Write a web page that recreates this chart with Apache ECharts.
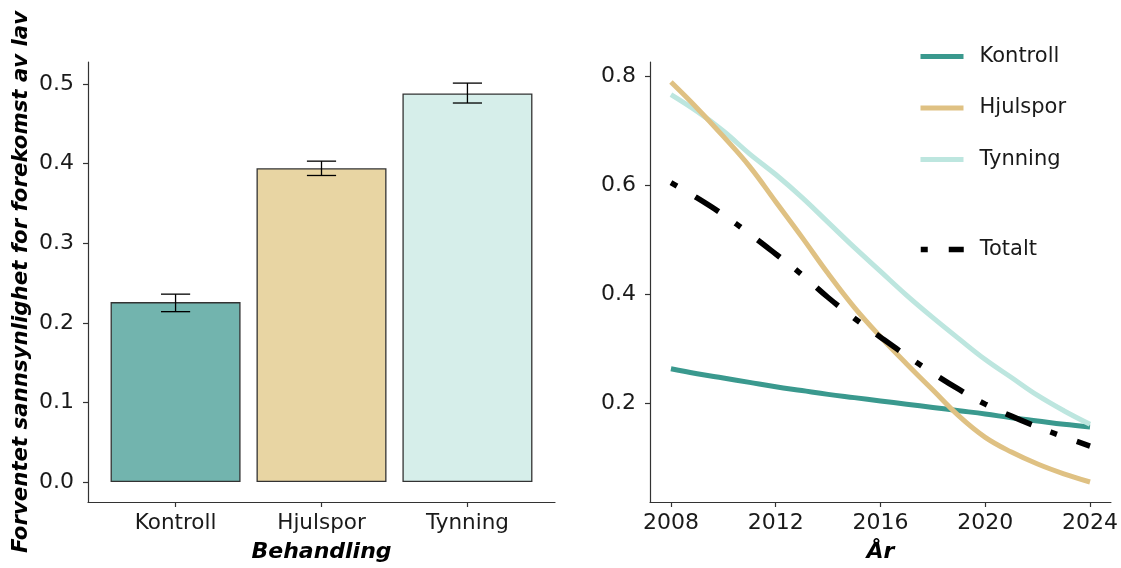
<!DOCTYPE html>
<html>
<head>
<meta charset="utf-8">
<script src="https://cdn.jsdelivr.net/npm/echarts@6/dist/echarts.min.js"></script>
<style>
  html, body { margin: 0; padding: 0; background: #fff; }
  #main { width: 1121px; height: 568px; }
</style>
</head>
<body>
<div id="main"></div>
<script>
// Left panel: expected probability per treatment, with error bars
const treatments = ['Kontroll', 'Hjulspor', 'Tynning'];
const probMean = [0.226, 0.394, 0.488];
const probLower = [0.214, 0.385, 0.476];
const probUpper = [0.236, 0.403, 0.501];
const probTicks = [0, 0.1, 0.2, 0.3, 0.4, 0.5];

// Right panel: predicted trend per year
const years = [2008, 2009, 2010, 2011, 2012, 2013, 2014, 2015, 2016,
  2017, 2018, 2019, 2020, 2021, 2022, 2023, 2024];
const kontroll = [0.263, 0.254, 0.246, 0.238, 0.230, 0.223, 0.216, 0.210, 0.204,
  0.198, 0.192, 0.186, 0.180, 0.173, 0.167, 0.161, 0.156];
const hjulspor = [0.790, 0.742, 0.690, 0.635, 0.570, 0.505, 0.438, 0.376, 0.322,
  0.272, 0.224, 0.176, 0.137, 0.110, 0.088, 0.070, 0.055];
const tynning = [0.767, 0.736, 0.700, 0.658, 0.620, 0.578, 0.532, 0.486, 0.442,
  0.398, 0.357, 0.318, 0.280, 0.247, 0.214, 0.186, 0.161];
const totalt = [0.605, 0.577, 0.546, 0.511, 0.474, 0.436, 0.394, 0.356, 0.321,
  0.287, 0.255, 0.225, 0.198, 0.176, 0.156, 0.138, 0.121];
const yearTicks = [2008, 2012, 2016, 2020, 2024];
const trendTicks = [0.2, 0.4, 0.6, 0.8];

const lineColors = ['#3a998e', '#dfc183', '#bde6df'];
const barColors = ['#72b4ae', '#e8d5a3', '#d6eeea'];

const FONT = 'DejaVu Sans';
const TXT = '#1a1a1a';

function axisStyle() {
  return {
    axisLine: { show: true, onZero: false, lineStyle: { color: '#333', width: 1.2 } },
    splitLine: { show: false }
  };
}

function tickLabel(values, fmt, size, margin) {
  return {
    customValues: values,
    formatter: fmt,
    fontFamily: FONT,
    fontSize: size,
    color: TXT,
    margin: margin
  };
}

function tickMarks(values) {
  return { show: true, customValues: values, length: 5, lineStyle: { color: '#333', width: 1.2 } };
}

const titleStyle = { fontFamily: FONT, fontWeight: 'bold', fontStyle: 'italic', fontSize: 22, color: '#000' };

const legendText = { fontFamily: FONT, fontSize: 21, color: TXT, lineHeight: 20, padding: [0, 0, 0, 11] };

function pairs(ys) {
  return years.map((yr, i) => [yr, ys[i]]);
}

const chart = echarts.init(document.getElementById('main'), null, { renderer: 'canvas' });

const option = {
  animation: false,
  backgroundColor: '#fff',
  grid: [
    { left: 88, top: 62, width: 467, height: 441 },
    { left: 650, top: 62, width: 463, height: 441 }
  ],
  xAxis: [
    Object.assign(axisStyle(), {
      gridIndex: 0, type: 'value', min: 0.4, max: 3.6,
      axisLabel: tickLabel([1, 2, 3], v => treatments[Math.round(v) - 1], 21.5, 10),
      axisTick: tickMarks([1, 2, 3]),
      name: 'Behandling', nameLocation: 'middle', nameGap: 39,
      nameTextStyle: titleStyle
    }),
    Object.assign(axisStyle(), {
      gridIndex: 1, type: 'value', min: 2007.2, max: 2024.8,
      axisLabel: tickLabel(yearTicks, v => String(v), 22, 10),
      axisTick: tickMarks(yearTicks),
      name: 'År', nameLocation: 'middle', nameGap: 39,
      nameTextStyle: titleStyle
    })
  ],
  yAxis: [
    Object.assign(axisStyle(), {
      gridIndex: 0, type: 'value', min: -0.025, max: 0.5275,
      axisLabel: tickLabel(probTicks, v => v.toFixed(1), 22, 14),
      axisTick: tickMarks(probTicks),
      name: 'Forventet sannsynlighet for forekomst av lav',
      nameLocation: 'middle', nameGap: 56,
      nameTextStyle: Object.assign({}, titleStyle, { fontSize: 21.3 })
    }),
    Object.assign(axisStyle(), {
      gridIndex: 1, type: 'value', min: 0.0182, max: 0.8268,
      axisLabel: tickLabel(trendTicks, v => v.toFixed(1), 22, 14),
      axisTick: tickMarks(trendTicks)
    })
  ],
  legend: [
    {
      data: ['Kontroll', 'Hjulspor', 'Tynning'],
      orient: 'vertical', left: 913, top: 41,
      itemWidth: 43, itemHeight: 20, itemGap: 30.5,
      lineStyle: { width: 5 },
      itemStyle: { color: 'rgba(0,0,0,0)', borderWidth: 0 },
      textStyle: legendText,
      selectedMode: false
    },
    {
      data: ['Totalt'],
      orient: 'vertical', left: 913, top: 234,
      itemWidth: 43, itemHeight: 20,
      lineStyle: { width: 5.5 },
      itemStyle: { color: 'rgba(0,0,0,0)', borderWidth: 0 },
      textStyle: legendText,
      selectedMode: false
    }
  ],
  series: [
    {
      type: 'bar', xAxisIndex: 0, yAxisIndex: 0,
      barWidth: 130,
      data: probMean.map((v, i) => ({
        value: [i + 1, v],
        itemStyle: { color: barColors[i], borderColor: '#333', borderWidth: 1.3 }
      }))
    },
    {
      type: 'custom', xAxisIndex: 0, yAxisIndex: 0, z: 5,
      data: treatments.map((t, i) => [i + 1, probLower[i], probUpper[i]]),
      renderItem: function (params, api) {
        const x = api.value(0);
        const lo = api.coord([x, api.value(1)]);
        const hi = api.coord([x, api.value(2)]);
        const half = api.size([0.2, 0])[0] / 2;
        const style = { stroke: '#000', lineWidth: 1.3, fill: null };
        return {
          type: 'group',
          children: [
            { type: 'line', shape: { x1: lo[0], y1: hi[1], x2: lo[0], y2: lo[1] }, style: style },
            { type: 'line', shape: { x1: lo[0] - half, y1: hi[1], x2: lo[0] + half, y2: hi[1] }, style: style },
            { type: 'line', shape: { x1: lo[0] - half, y1: lo[1], x2: lo[0] + half, y2: lo[1] }, style: style }
          ]
        };
      }
    },
    {
      name: 'Kontroll', type: 'line', xAxisIndex: 1, yAxisIndex: 1,
      data: pairs(kontroll), symbol: 'none', smooth: 0.4,
      lineStyle: { color: lineColors[0], width: 5 }, itemStyle: { color: lineColors[0] }
    },
    {
      name: 'Tynning', type: 'line', xAxisIndex: 1, yAxisIndex: 1,
      data: pairs(tynning), symbol: 'none', smooth: 0.4,
      lineStyle: { color: lineColors[2], width: 5 }, itemStyle: { color: lineColors[2] }
    },
    {
      name: 'Hjulspor', type: 'line', xAxisIndex: 1, yAxisIndex: 1,
      data: pairs(hjulspor), symbol: 'none', smooth: 0.4,
      lineStyle: { color: lineColors[1], width: 5 }, itemStyle: { color: lineColors[1] }
    },
    {
      name: 'Totalt', type: 'line', xAxisIndex: 1, yAxisIndex: 1, z: 4,
      data: pairs(totalt), symbol: 'none', smooth: 0.4,
      lineStyle: { color: '#000', width: 5.5, type: [7, 21, 28, 20], cap: 'butt' },
      itemStyle: { color: '#000' }
    }
  ]
};

chart.setOption(option);
window.addEventListener('resize', () => { chart.resize(); });
</script>
</body>
</html>
